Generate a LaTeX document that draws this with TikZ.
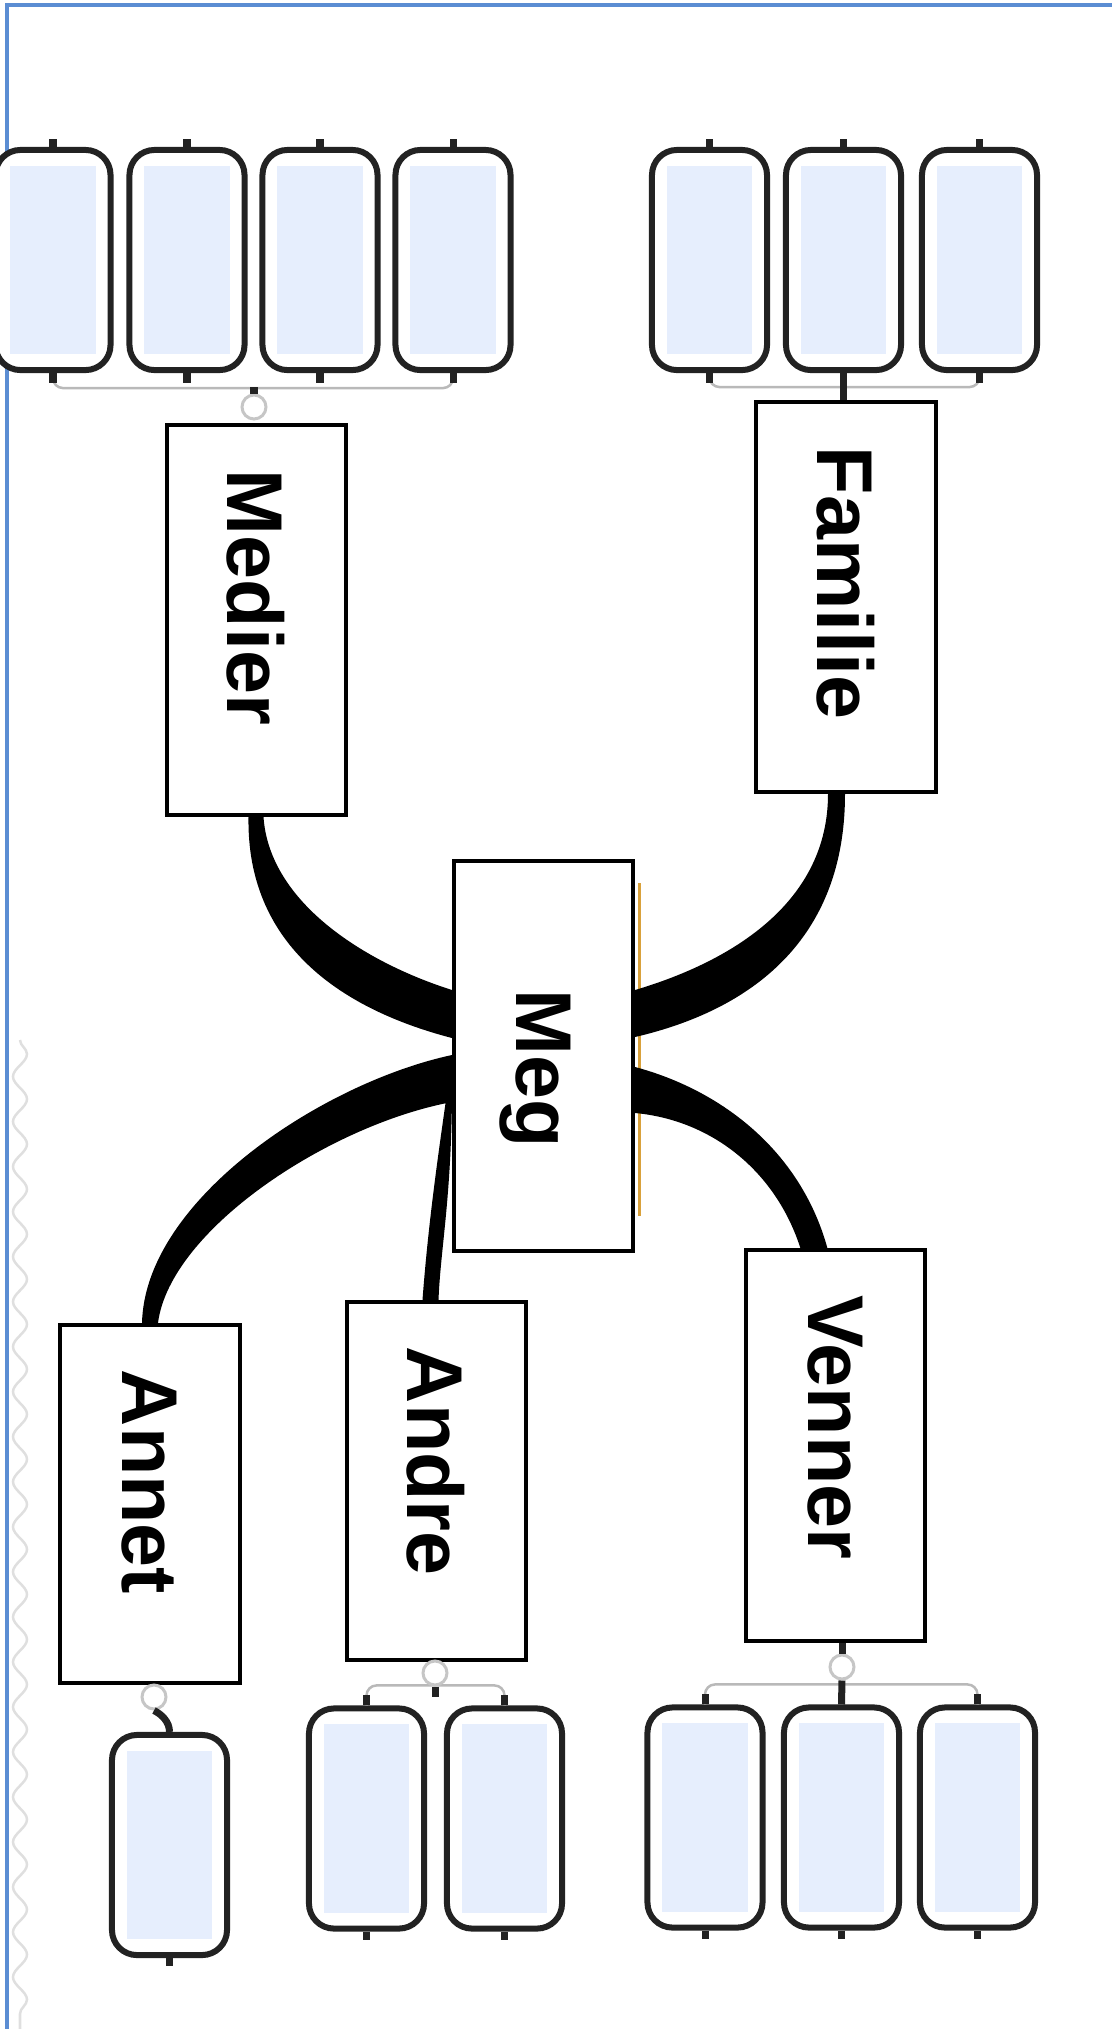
\documentclass[tikz,border=0pt]{standalone}
\usepackage{fontspec}
\setsansfont{Liberation Sans}
\usetikzlibrary{decorations.pathmorphing}

\definecolor{frameblue}{HTML}{5B8DD3}
\definecolor{leafblue}{HTML}{E6EEFD}
\definecolor{leafline}{HTML}{222222}
\definecolor{megamber}{HTML}{D9A13B}

\newcommand{\sidetext}[2]{\rotatebox{-90}{\makebox[#1][l]{\raisebox{0pt}[\height][0pt]{#2}}}}

\tikzset{
  topic/.style={draw, line width=0.04cm, fill=white, inner sep=0pt,
    minimum width=1.79cm, minimum height=3.90cm,
    font=\sffamily\bfseries\fontsize{22.5}{27}\selectfont},
  shorttopic/.style={topic, minimum height=3.58cm},
  leaf/.style={draw=leafline, line width=0.06cm, rounded corners=0.25cm, fill=white,
    inner sep=0pt, minimum width=1.15cm, minimum height=2.20cm,
    path picture={\fill[leafblue, sharp corners] ([shift={(0.15cm,0.16cm)}]path picture bounding box.south west)
      rectangle ([shift={(-0.15cm,-0.16cm)}]path picture bounding box.north east);}},
  branch/.style={fill=black},
  twig/.style={draw=gray!55, line width=0.025cm, rounded corners=0.1cm},
  nub/.style={draw=leafline, line width=0.07cm},
  knob/.style={circle, draw=gray!45, line width=0.03cm, fill=white, inner sep=0pt, minimum size=0.24cm}
}

\begin{document}
\begin{tikzpicture}[x=0.01cm, y=-0.01cm]
  \useasboundingbox (0,0) rectangle (1112,2029);

  \draw[frameblue, line width=0.035cm] (7,2029) -- (7,5) -- (1112,5);
  \draw[gray!25, line width=0.025cm, decorate, decoration={snake, amplitude=0.07cm, segment length=0.45cm}] (20,1040) -- (20,2029);

  \node[leaf] (medier1) at (53,260) {};
  \node[leaf] (medier2) at (187,260) {};
  \node[leaf] (medier3) at (320,260) {};
  \node[leaf] (medier4) at (453,260) {};
  \node[leaf] (familie1) at (709.5,260) {};
  \node[leaf] (familie2) at (843.5,260) {};
  \node[leaf] (familie3) at (979.5,260) {};
  \node[leaf] (venner1) at (705,1817.5) {};
  \node[leaf] (venner2) at (841.5,1817.5) {};
  \node[leaf] (venner3) at (977.5,1817.5) {};
  \node[leaf] (andre1) at (366.5,1818.5) {};
  \node[leaf] (andre2) at (504.5,1818.5) {};
  \node[leaf] (annet1) at (169.5,1845) {};

  \node[topic] (medier) at (256.5,620) {\sidetext{3cm}{Medier}};
  \node[topic] (familie) at (846,597) {\sidetext{3cm}{Familie}};
  \node[topic] (meg) at (543.5,1056) {\sidetext{1.32cm}{Meg}};
  \node[topic] (venner) at (835.5,1445.5) {\sidetext{3cm}{Venner}};
  \node[shorttopic] (andre) at (436.5,1481) {\sidetext{2.68cm}{Andre}};
  \node[shorttopic] (annet) at (150,1504) {\sidetext{2.68cm}{Annet}};

  \draw[megamber, line width=0.03cm] ([shift={(4,-173)}]meg.east) -- ([shift={(4,160)}]meg.east);

  \fill[branch] ([shift={(7,0)}]medier.south) .. controls +(6,85) and +(-88,-28) .. ([shift={(0,-66)}]meg.west)
    -- ([shift={(0,-18)}]meg.west) .. controls +(-115,-30) and +(-2,125) .. ([shift={(-8,0)}]medier.south) -- cycle;
  \fill[branch] ([shift={(0,-1)}]meg.west) .. controls +(-130,28) and +(3,-123) .. ([shift={(-8,0)}]annet.north)
    -- ([shift={(8,0)}]annet.north) .. controls +(12,-93) and +(-123,23) .. ([shift={(0,46)}]meg.west) -- cycle;
  \fill[branch] ([shift={(0,44)}]meg.west) .. controls +(-1,100) and +(2,-50) .. ([shift={(2,0)}]andre.north)
    -- ([shift={(-14,0)}]andre.north) .. controls +(6,-80) and +(-7,50) .. ([shift={(-6,44)}]meg.west) -- cycle;
  \fill[branch] ([shift={(0,-66)}]meg.east) .. controls +(101,-30) and +(0,106) .. ([shift={(-18,0)}]familie.south)
    -- ([shift={(-1,0)}]familie.south) .. controls +(0,146) and +(116,-27) .. ([shift={(0,-19)}]meg.east) -- cycle;
  \fill[branch] ([shift={(0,11)}]meg.east) .. controls +(86,23) and +(-27,-98) .. ([shift={(-8,0)}]venner.north)
    -- ([shift={(-35,0)}]venner.north) .. controls +(-25,-78) and +(76,7) .. ([shift={(0,57)}]meg.east) -- cycle;

  \draw[twig] (medier1.south) -- ++(0,15) -| (medier4.south);
  \draw[twig] (familie1.south) -- ++(0,14) -| (familie3.south);
  \draw[twig] (venner1.north) -- ++(0,-20) -| (venner3.north);
  \draw[twig] (andre1.north) -- ++(0,-20) -| (andre2.north);

  \draw[nub] (medier1.north) -- +(0,-8) (medier1.south) -- +(0,10);
  \draw[nub] (medier2.north) -- +(0,-8) (medier2.south) -- +(0,10);
  \draw[nub] (medier3.north) -- +(0,-8) (medier3.south) -- +(0,10);
  \draw[nub] (medier4.north) -- +(0,-8) (medier4.south) -- +(0,10);
  \draw[nub] (familie1.north) -- +(0,-8) (familie1.south) -- +(0,10);
  \draw[nub] (familie3.north) -- +(0,-8) (familie3.south) -- +(0,10);
  \draw[nub] (familie2.north) -- +(0,-8) (familie2.south) -- (familie2.south |- familie.north);
  \draw[nub] (venner1.north) -- +(0,-10) (venner1.south) -- +(0,8);
  \draw[nub] (venner2.south) -- +(0,8);
  \draw[nub] (venner3.north) -- +(0,-10) (venner3.south) -- +(0,8);
  \draw[nub] (andre1.north) -- +(0,-10) (andre1.south) -- +(0,8);
  \draw[nub] (andre2.north) -- +(0,-10) (andre2.south) -- +(0,8);
  \draw[nub] (annet1.south) -- +(0,8);

  \node[knob] (medierknob) at (254,407) {};
  \node[knob] (vennerknob) at (842,1667) {};
  \node[knob] (andreknob) at (435,1673) {};
  \node[knob] (annetknob) at (154,1697) {};

  \draw[nub] (medierknob.north) -- +(0,-7);
  \draw[nub] (vennerknob.north |- venner.south) -- (vennerknob.north);
  \draw[nub] (vennerknob.south) -- (venner2.north);
  \draw[nub] (andreknob.south) -- +(0,10);
  \draw[nub] (annetknob.south) .. controls +(8,4) and +(0,-10) .. (annet1.north);
\end{tikzpicture}
\end{document}
